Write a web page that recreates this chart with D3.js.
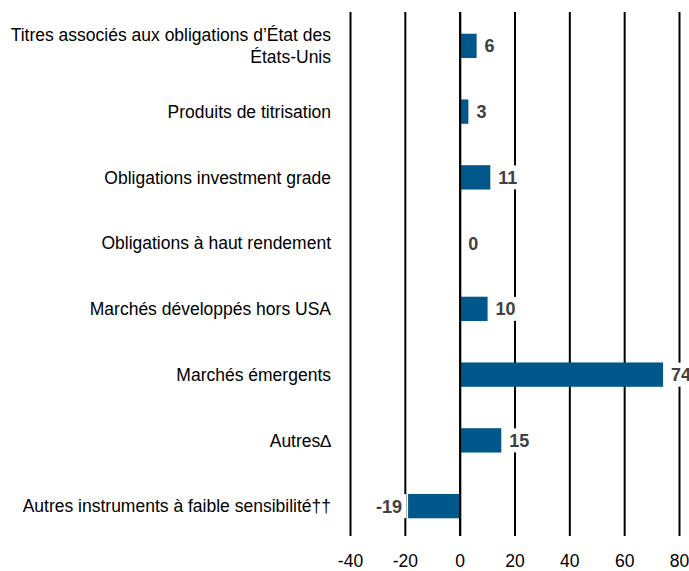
<html>
<head>
<meta charset="utf-8">
<title>Bar chart</title>
<style>
  body { margin: 0; background: #fff; }
  text { font-family: "Liberation Sans Narrow", "Arial Narrow", "Liberation Sans", Arial, sans-serif; }
</style>
</head>
<body>
<script src="https://cdn.jsdelivr.net/npm/d3@7"></script>
<script>
var categories = [
  ["Titres associés aux obligations d\u2019État des", "États-Unis"],
  ["Produits de titrisation"],
  ["Obligations investment grade"],
  ["Obligations à haut rendement"],
  ["Marchés développés hors USA"],
  ["Marchés émergents"],
  ["Autres\u2206"],
  ["Autres instruments à faible sensibilité\u2020\u2020"]
];
var values = [6, 3, 11, 0, 10, 74, 15, -19];
var ticks = [-40, -20, 0, 20, 40, 60, 80];

var width = 689, height = 571;
var svg = d3.select("body").append("svg")
    .attr("width", width)
    .attr("height", height);

var x = d3.scaleLinear().domain([-40, 80]).range([350.5, 679.5]);
var y = d3.scaleBand()
    .domain(d3.range(categories.length))
    .range([13, 539])
    .paddingInner(0.63)
    .paddingOuter(0.315);

// gridlines
svg.append("g").selectAll("line")
    .data(ticks)
    .enter().append("line")
    .attr("x1", function (d) { return x(d); })
    .attr("x2", function (d) { return x(d); })
    .attr("y1", 12)
    .attr("y2", 536)
    .attr("stroke", "#000")
    .attr("stroke-width", 2);

// tick labels
svg.append("g").selectAll("text")
    .data(ticks)
    .enter().append("text")
    .attr("x", function (d) { return x(d); })
    .attr("y", 567)
    .attr("text-anchor", "middle")
    .attr("font-size", 17.5)
    .attr("fill", "#000")
    .text(function (d) { return d; });

// bars
svg.append("g").selectAll("rect")
    .data(values)
    .enter().append("rect")
    .attr("x", function (d) { return x(Math.min(0, d)); })
    .attr("width", function (d) { return Math.abs(x(d) - x(0)); })
    .attr("y", function (d, i) { return y(i); })
    .attr("height", y.bandwidth())
    .attr("fill", "#00578a");

// zero line on top
svg.append("line")
    .attr("x1", x(0)).attr("x2", x(0))
    .attr("y1", 12).attr("y2", 536)
    .attr("stroke", "#000")
    .attr("stroke-width", 2);

// value labels with white boxes
var lab = svg.append("g").selectAll("g")
    .data(values)
    .enter().append("g");

lab.each(function (d, i) {
    var g = d3.select(this);
    var cy = y(i) + y.bandwidth() / 2;
    var t = g.append("text")
        .attr("y", cy)
        .attr("dy", "0.36em")
        .attr("font-size", 18)
        .attr("font-weight", "bold")
        .attr("fill", "#404040")
        .text(d);
    if (d < 0) {
        t.attr("x", x(d) - 6).attr("text-anchor", "end");
    } else {
        t.attr("x", x(d) + 8).attr("text-anchor", "start");
    }
    var bb = t.node().getBBox();
    g.insert("rect", "text")
        .attr("x", bb.x - 4)
        .attr("y", cy - 12)
        .attr("width", bb.width + 8)
        .attr("height", 24)
        .attr("fill", "#fff");
});

// category labels
svg.append("g").selectAll("text")
    .data(categories)
    .enter().append("text")
    .attr("x", 331)
    .attr("y", function (d, i) {
        var cy = y(i) + y.bandwidth() / 2;
        return cy - (d.length - 1) * 11;
    })
    .attr("text-anchor", "end")
    .attr("font-size", 17.5)
    .attr("fill", "#000")
    .each(function (d) {
        var t = d3.select(this);
        d.forEach(function (line, k) {
            t.append("tspan")
                .attr("x", 331)
                .attr("dy", k === 0 ? "0.36em" : 22)
                .text(line);
        });
    });
</script>
</body>
</html>
